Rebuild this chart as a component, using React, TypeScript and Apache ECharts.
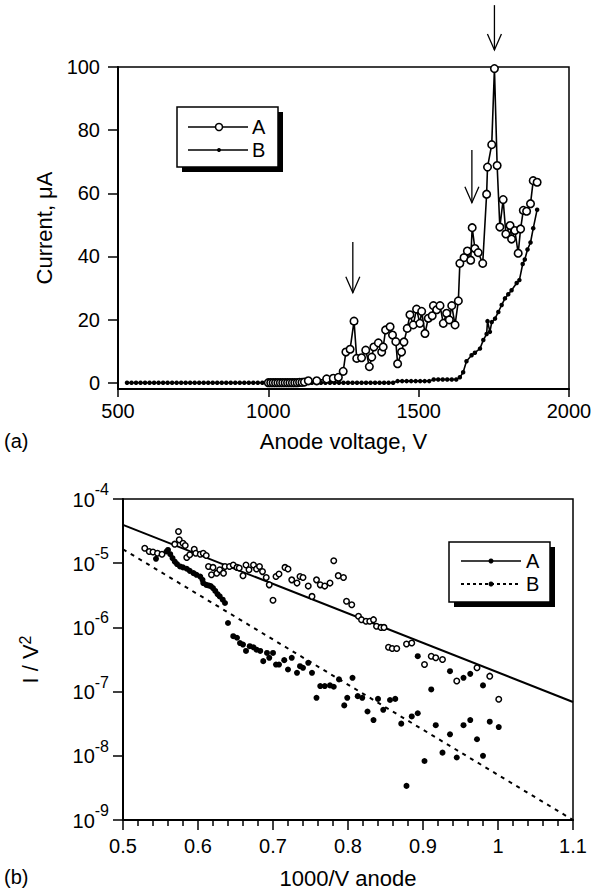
import React, { useEffect, useRef } from "react";
import * as echarts from "echarts";

const FONT = "'Liberation Sans', Arial, Helvetica, sans-serif";

// ---------- Panel (a): current vs anode voltage ----------
const voltsA = [1000, 1008, 1016, 1024, 1032, 1040, 1048, 1056, 1064, 1072, 1080, 1088, 1096, 1104, 1112, 1120,
  1133, 1161, 1194, 1216, 1233, 1249, 1258, 1272, 1285, 1294, 1310, 1324, 1336, 1344, 1351, 1366, 1377, 1382,
  1390, 1405, 1413, 1424, 1430, 1443, 1451, 1462, 1471, 1482, 1493, 1504, 1510, 1521, 1532, 1545, 1549, 1560,
  1571, 1582, 1593, 1602, 1610, 1621, 1632, 1637, 1651, 1662, 1673, 1678, 1687, 1698, 1713, 1726, 1729, 1743,
  1752, 1761, 1770, 1781, 1790, 1804, 1809, 1820, 1831, 1839, 1848, 1859, 1872, 1881, 1894];
const currentA = [0, 0, 0, 0, 0, 0, 0, 0, 0, 0, 0, 0, 0, 0.1, 0.1, 0.2,
  0.6, 0.6, 1.2, 1.4, 1.7, 3.6, 9.7, 10.6, 19.5, 7.7, 7.9, 10.3, 5.1, 8.1, 11.3, 12.6, 9.7, 11.3,
  16.7, 17.7, 15.1, 13.0, 6.0, 9.7, 12.9, 17.2, 21.5, 18.3, 23.3, 18.8, 22.6, 15.6, 20.4, 21.2, 24.4, 23.1,
  24.4, 18.8, 22.0, 19.9, 24.4, 18.3, 25.9, 37.8, 39.6, 41.7, 38.8, 49.1, 42.5, 41.2, 37.8, 59.7, 68.3, 75.4,
  99.5, 68.8, 49.3, 58.0, 47.1, 49.8, 45.5, 48.2, 41.0, 48.7, 54.6, 54.3, 56.7, 64.0, 63.5];

const voltsB = [530, 545, 560, 575, 590, 605, 620, 635, 650, 665, 680, 695, 710, 725, 740, 755, 770, 785, 800,
  815, 830, 845, 860, 875, 890, 905, 920, 935, 950, 965, 980, 995, 1010, 1025, 1040, 1055, 1070, 1085, 1100,
  1115, 1130, 1145, 1160, 1175, 1190, 1205, 1220, 1235, 1250, 1265, 1280, 1295, 1310, 1325, 1340, 1355, 1370,
  1385, 1400, 1415, 1430, 1445, 1460, 1475, 1490, 1505, 1520, 1535, 1550, 1565, 1580, 1595, 1610, 1625,
  1637, 1648, 1659, 1676, 1687, 1704, 1715, 1726, 1729, 1737, 1743, 1754, 1765, 1776, 1787, 1798, 1809, 1826,
  1835, 1846, 1853, 1862, 1872, 1881, 1894];
const currentB = [0, 0, 0, 0, 0, 0, 0, 0, 0, 0, 0, 0, 0, 0, 0, 0, 0, 0, 0,
  0, 0, 0, 0, 0, 0, 0, 0, 0, 0, 0, 0, 0, 0, 0, 0, 0, 0, 0, 0,
  0, 0, 0, 0, 0, 0, 0, 0, 0, 0, 0, 0, 0, 0, 0, 0, 0, 0,
  0, 0, 0, 0.5, 0.5, 0.5, 0.5, 0.5, 0.5, 0.5, 0.5, 1.0, 1.0, 1.0, 1.0, 1.0, 1.0,
  1.7, 3.3, 6.8, 8.7, 9.5, 10.8, 13.5, 15.4, 19.5, 16.1, 19.2, 20.3, 22.4, 24.6, 26.7, 28.0, 29.3, 31.6,
  32.5, 37.6, 39.0, 42.2, 44.4, 48.9, 54.8];

const xTicksA = [500, 1000, 1500, 2000];
const yTicksA = [0, 20, 40, 60, 80, 100];

// arrows marking peaks: voltage, current at arrow tail, current at arrow tip
const arrowVolts = [1281, 1677, 1752];
const arrowTail = [44.6, 73.7, 119.6];
const arrowTip = [28.5, 57.0, 105.4];

// ---------- Panel (b): Fowler-Nordheim plot ----------
const invVA = [0.529, 0.535, 0.540, 0.546, 0.552, 0.569, 0.574, 0.575, 0.580, 0.583, 0.585, 0.589, 0.595, 0.597, 0.603,
  0.607, 0.611, 0.614, 0.620, 0.618, 0.625, 0.629, 0.634, 0.636, 0.642, 0.647, 0.652, 0.655, 0.660, 0.664,
  0.668, 0.674, 0.678, 0.682, 0.686, 0.691, 0.695, 0.700, 0.704, 0.708, 0.716, 0.720, 0.725, 0.732, 0.736,
  0.740, 0.747, 0.752, 0.758, 0.763, 0.769, 0.776, 0.781, 0.787, 0.794, 0.798, 0.805, 0.814, 0.818, 0.824,
  0.829, 0.834, 0.838, 0.844, 0.848, 0.854, 0.859, 0.865, 0.878, 0.885, 0.902, 0.911, 0.917, 0.926, 0.945,
  0.972, 0.989, 1.001];
const ivA = [1.71e-5, 1.52e-5, 1.49e-5, 1.43e-5, 1.38e-5, 1.98e-5, 3.11e-5, 2.31e-5, 2.05e-5, 1.89e-5, 1.23e-5, 1.35e-5, 1.65e-5, 1.43e-5, 1.38e-5,
  1.43e-5, 1.32e-5, 8.9e-6, 8.6e-6, 6.6e-6, 7.0e-6, 7.9e-6, 7.0e-6, 8.9e-6, 8.9e-6, 9.4e-6, 8.6e-6, 8.4e-6, 6.4e-6, 9.4e-6,
  7.9e-6, 9.4e-6, 8.1e-6, 8.9e-6, 7.4e-6, 6.0e-6, 4.6e-6, 2.64e-6, 6.2e-6, 6.8e-6, 8.6e-6, 8.1e-6, 5.5e-6, 4.9e-6, 6.2e-6,
  6.0e-6, 4.4e-6, 3.04e-6, 5.5e-6, 4.6e-6, 4.4e-6, 4.9e-6, 1.09e-5, 6.4e-6, 6.0e-6, 2.55e-6, 2.26e-6, 1.49e-6, 1.32e-6, 1.25e-6,
  1.25e-6, 1.32e-6, 1.04e-6, 1.0e-6, 1.0e-6, 4.9e-7, 4.7e-7, 4.7e-7, 5.5e-7, 5.7e-7, 2.64e-7, 3.56e-7, 3.36e-7, 3.16e-7, 1.46e-7,
  2.35e-7, 1.74e-7, 7.6e-8];

const invVB = [0.544, 0.558, 0.560, 0.563, 0.566, 0.569, 0.572, 0.576, 0.580, 0.585, 0.589, 0.594, 0.598, 0.603, 0.606,
  0.607, 0.611, 0.614, 0.617, 0.620, 0.623, 0.626, 0.629, 0.633, 0.636, 0.640, 0.647, 0.652, 0.656, 0.660,
  0.664, 0.669, 0.674, 0.678, 0.683, 0.687, 0.692, 0.695, 0.700, 0.704, 0.708, 0.715, 0.720, 0.725, 0.732,
  0.736, 0.740, 0.747, 0.752, 0.758, 0.763, 0.769, 0.776, 0.781, 0.788, 0.795, 0.799, 0.806, 0.813, 0.819,
  0.826, 0.834, 0.840, 0.847, 0.856, 0.863, 0.871, 0.878, 0.885, 0.893, 0.893, 0.902, 0.911, 0.917, 0.926,
  0.936, 0.936, 0.945, 0.954, 0.954, 0.963, 0.963, 0.972, 0.980, 0.980, 0.989, 1.001];
const ivB = [1.17e-5, 1.52e-5, 1.61e-5, 1.38e-5, 1.20e-5, 1.06e-5, 9.7e-6, 8.9e-6, 8.6e-6, 8.2e-6, 7.6e-6, 7.0e-6, 6.6e-6, 6.2e-6, 5.5e-6,
  4.9e-6, 4.6e-6, 4.5e-6, 4.4e-6, 4.1e-6, 3.7e-6, 3.3e-6, 3.04e-6, 2.70e-6, 2.40e-6, 1.17e-6, 7.3e-7, 6.9e-7, 5.7e-7, 5.4e-7,
  4.3e-7, 5.1e-7, 4.9e-7, 4.5e-7, 4.3e-7, 2.98e-7, 4.0e-7, 3.36e-7, 4.0e-7, 2.64e-7, 2.64e-7, 3.09e-7, 2.21e-7, 3.36e-7, 1.96e-7,
  2.49e-7, 2.35e-7, 2.81e-7, 1.96e-7, 8.0e-8, 1.22e-7, 1.22e-7, 1.25e-7, 1.19e-7, 1.55e-7, 6.1e-8, 8.0e-8, 1.64e-7, 8.5e-8, 8.0e-8,
  4.9e-8, 3.6e-8, 7.7e-8, 5.2e-8, 7.4e-8, 7.7e-8, 3.17e-8, 3.4e-9, 4.1e-8, 4.6e-8, 3.56e-7, 8.3e-9, 1.08e-7, 3.0e-8, 1.12e-8,
  2.08e-7, 2.16e-8, 9.4e-9, 1.64e-7, 3.0e-8, 1.89e-7, 3.6e-8, 1.81e-8, 1.25e-7, 1.0e-8, 3.4e-8, 2.8e-8];

// straight-line fits (end points)
const fitAx = [0.5, 1.1];
const fitAy = [3.95e-5, 6.9e-8];
const fitBx = [0.5, 1.1];
const fitBy = [1.65e-5, 1.0e-9];

const legendNames = ["A", "B"];

function zip(xs: number[], ys: number[]) {
  return xs.map((x, i) => [x, ys[i]]);
}

export default function App() {
  const ref = useRef<HTMLDivElement>(null);
  useEffect(() => {
    if (!ref.current) return;
    const chart = echarts.init(ref.current, null, { renderer: "svg" });
    const axisLine = { show: true, onZero: false, lineStyle: { color: "#000", width: 2 } };
    const labelBase = { color: "#000", fontFamily: FONT, fontSize: 20 };
    const nameBase = { color: "#000", fontFamily: FONT, fontSize: 22 };
    const option: any = {
      animation: false,
      backgroundColor: "#fff",
      textStyle: { fontFamily: FONT },
      grid: [
        { left: 118, right: 30, top: 67, height: 322, show: true, borderColor: "#000", borderWidth: 1.5, backgroundColor: "transparent" },
        { left: 123, right: 26, top: 499, height: 322, show: true, borderColor: "#000", borderWidth: 1.5, backgroundColor: "transparent" },
      ],
      xAxis: [
        {
          gridIndex: 0, type: "value", min: 500, max: 2000, interval: 500,
          axisLine, splitLine: { show: false },
          axisTick: { show: true, inside: false, length: 8, lineStyle: { color: "#000", width: 1.5 } },
          axisLabel: { ...labelBase, margin: 12, formatter: (v: number) => String(v), customValues: xTicksA },
          name: "Anode voltage, V", nameLocation: "middle", nameGap: 41, nameTextStyle: nameBase,
        },
        {
          gridIndex: 1, type: "value", min: 0.5, max: 1.1, interval: 0.1,
          axisLine, splitLine: { show: false },
          axisTick: { show: true, inside: false, length: 10, lineStyle: { color: "#000", width: 1.5 } },
          minorTick: { show: true, splitNumber: 5, length: 6, lineStyle: { color: "#000", width: 1.5 } },
          axisLabel: { ...labelBase, margin: 16, formatter: (v: number) => String(Math.round(v * 10) / 10) },
          name: "1000/V anode", nameLocation: "middle", nameGap: 47, nameTextStyle: nameBase,
        },
      ],
      yAxis: [
        {
          gridIndex: 0, type: "value", min: -2, max: 100,
          axisLine, splitLine: { show: false },
          axisTick: { show: true, inside: false, length: 10, lineStyle: { color: "#000", width: 1.5 }, customValues: yTicksA },
          axisLabel: { ...labelBase, margin: 18, customValues: yTicksA, formatter: (v: number) => String(v) },
          name: "Current, μA", nameLocation: "middle", nameGap: 63, nameRotate: 90, nameTextStyle: nameBase,
        },
        {
          gridIndex: 1, type: "log", logBase: 10, min: 1e-9, max: 1e-4,
          axisLine, splitLine: { show: false },
          axisTick: { show: true, inside: false, length: 10, lineStyle: { color: "#000", width: 1.5 } },
          axisLabel: {
            ...labelBase, margin: 14,
            padding: [0, 0, 7, 0],
            formatter: (v: number) => `{b|10}{s|${Math.round(Math.log10(v))}}`,
            rich: {
              b: { fontSize: 20, fontFamily: FONT, color: "#000", verticalAlign: "bottom", padding: [8, 0, 0, 0] },
              s: { fontSize: 16, fontFamily: FONT, color: "#000", verticalAlign: "top" },
            },
          },
          name: "I / V{s|2}", nameLocation: "middle", nameGap: 80, nameRotate: 90,
          nameTextStyle: {
            ...nameBase,
            rich: {
              s: { fontSize: 16, fontFamily: FONT, color: "#000", verticalAlign: "top", padding: [0, 0, 10, 0] },
            },
          },
        },
      ],
      series: [
        {
          name: legendNames[1], type: "line", xAxisIndex: 0, yAxisIndex: 0,
          data: zip(voltsB, currentB), symbol: "circle", symbolSize: 4.5, showAllSymbol: true,
          itemStyle: { color: "#000" }, lineStyle: { color: "#000", width: 1.6 }, z: 2,
        },
        {
          name: legendNames[0], type: "line", xAxisIndex: 0, yAxisIndex: 0,
          data: zip(voltsA, currentA), symbol: "circle", symbolSize: 7.5, showAllSymbol: true,
          itemStyle: { color: "#fff", borderColor: "#000", borderWidth: 1.6 },
          lineStyle: { color: "#000", width: 1.6 }, z: 3,
        },
        {
          name: "fitA", type: "line", xAxisIndex: 1, yAxisIndex: 1, data: zip(fitAx, fitAy),
          symbol: "none", lineStyle: { color: "#000", width: 2 }, z: 2,
        },
        {
          name: "fitB", type: "line", xAxisIndex: 1, yAxisIndex: 1, data: zip(fitBx, fitBy),
          symbol: "none", lineStyle: { color: "#000", width: 2, type: [4, 5] }, z: 2,
        },
        {
          name: "ptsA", type: "scatter", xAxisIndex: 1, yAxisIndex: 1, data: zip(invVA, ivA),
          symbol: "circle", symbolSize: 5.5,
          itemStyle: { color: "#fff", borderColor: "#000", borderWidth: 1.5, opacity: 1 }, z: 3,
        },
        {
          name: "ptsB", type: "scatter", xAxisIndex: 1, yAxisIndex: 1, data: zip(invVB, ivB),
          symbol: "circle", symbolSize: 6,
          itemStyle: { color: "#000", opacity: 1 }, z: 3,
        },
      ],
    };
    chart.setOption(option);

    const g: any[] = [];
    // arrows
    arrowVolts.forEach((v, i) => {
      const p1 = chart.convertToPixel({ gridIndex: 0 }, [v, arrowTail[i]]) as number[];
      const p2 = chart.convertToPixel({ gridIndex: 0 }, [v, arrowTip[i]]) as number[];
      g.push({ type: "line", silent: true, shape: { x1: p1[0], y1: p1[1], x2: p2[0], y2: p2[1] }, style: { stroke: "#000", lineWidth: 1.3 } });
      g.push({
        type: "polyline", silent: true,
        shape: { points: [[p2[0] - 7, p2[1] - 16], [p2[0], p2[1]], [p2[0] + 7, p2[1] - 16]] },
        style: { stroke: "#000", fill: "none", lineWidth: 1.3 },
      });
    });
    const txt = (x: number, y: number, text: string, size: number) => ({
      type: "text", x, y, z: 13,
      style: { text, fontSize: size, fontFamily: FONT, fill: "#000", align: "left", verticalAlign: "middle" },
    });
    // legend (a)
    g.push({ type: "rect", shape: { x: 182, y: 112, width: 101, height: 60 }, style: { fill: "#000" }, z: 10 });
    g.push({ type: "rect", shape: { x: 177, y: 107, width: 101, height: 60 }, style: { fill: "#fff", stroke: "#000", lineWidth: 1.5 }, z: 11 });
    g.push({ type: "line", shape: { x1: 188, y1: 127, x2: 248, y2: 127 }, style: { stroke: "#000", lineWidth: 1.5 }, z: 12 });
    g.push({ type: "circle", shape: { cx: 219, cy: 127, r: 3.5 }, style: { fill: "#fff", stroke: "#000", lineWidth: 1.5 }, z: 13 });
    g.push({ type: "line", shape: { x1: 188, y1: 150, x2: 248, y2: 150 }, style: { stroke: "#000", lineWidth: 1.5 }, z: 12 });
    g.push({ type: "circle", shape: { cx: 219, cy: 150, r: 2 }, style: { fill: "#000" }, z: 13 });
    g.push(txt(252, 127, legendNames[0], 20));
    g.push(txt(252, 150, legendNames[1], 20));
    // legend (b)
    g.push({ type: "rect", shape: { x: 454, y: 547, width: 101, height: 60 }, style: { fill: "#000" }, z: 10 });
    g.push({ type: "rect", shape: { x: 449, y: 542, width: 101, height: 60 }, style: { fill: "#fff", stroke: "#000", lineWidth: 1.5 }, z: 11 });
    g.push({ type: "line", shape: { x1: 461, y1: 561, x2: 521, y2: 561 }, style: { stroke: "#000", lineWidth: 1.5 }, z: 12 });
    g.push({ type: "circle", shape: { cx: 491, cy: 561, r: 2.5 }, style: { fill: "#000" }, z: 13 });
    g.push({ type: "line", shape: { x1: 461, y1: 584, x2: 521, y2: 584 }, style: { stroke: "#000", lineWidth: 2, lineDash: [3, 3] }, z: 12 });
    g.push({ type: "circle", shape: { cx: 491, cy: 584, r: 2.5 }, style: { fill: "#000" }, z: 13 });
    g.push(txt(526, 561, legendNames[0], 20));
    g.push(txt(526, 584, legendNames[1], 20));
    // panel labels
    g.push(txt(4, 441, "(a)", 20));
    g.push(txt(4, 877, "(b)", 20));

    chart.setOption({ graphic: g });
    return () => chart.dispose();
  }, []);
  return <div ref={ref} style={{ position: "absolute", left: 0, top: 0, width: 599, height: 890, background: "#fff" }} />;
}
